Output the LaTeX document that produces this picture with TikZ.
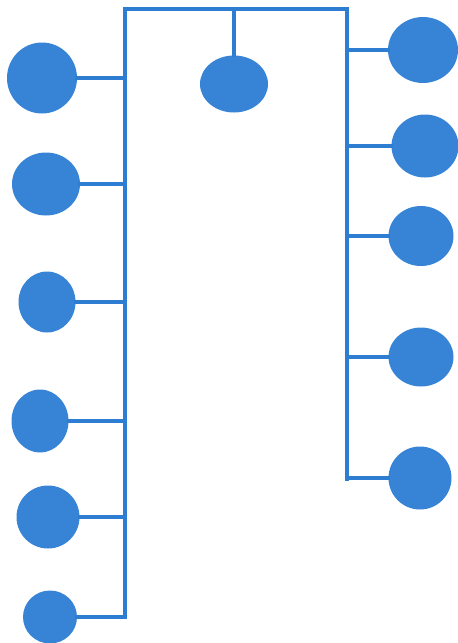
\documentclass[tikz,border=0pt]{standalone}
\usetikzlibrary{shapes.geometric}
\definecolor{netblue}{RGB}{45,125,210}
\definecolor{blobblue}{RGB}{55,132,214}
\begin{document}
\begin{tikzpicture}[x=1pt,y=-1pt,
  wire/.style={draw=netblue,line width=4.2pt,line cap=rect,line join=miter},
  blob/.style={ellipse,fill=blobblue,draw=none,inner sep=0pt}]
\useasboundingbox (0,0) rectangle (458,643);
% trunk coordinates
\coordinate (tl) at (125,9);
\coordinate (tr) at (347,9);
\coordinate (bl) at (125,615);
\coordinate (br) at (347,479);
% stations
\node[blob,minimum width=70,minimum height=71] (L1) at (42,78) {};
\node[blob,minimum width=68,minimum height=63] (L2) at (46,184) {};
\node[blob,minimum width=57,minimum height=61] (L3) at (47,302) {};
\node[blob,minimum width=57,minimum height=63] (L4) at (40,421) {};
\node[blob,minimum width=63,minimum height=63] (L5) at (48,517) {};
\node[blob,minimum width=54,minimum height=53] (L6) at (50,617) {};
\node[blob,minimum width=68,minimum height=57] (C) at (234,84) {};
\node[blob,minimum width=70,minimum height=66] (R1) at (423,50) {};
\node[blob,minimum width=67,minimum height=63] (R2) at (425,146) {};
\node[blob,minimum width=65,minimum height=60] (R3) at (421,236) {};
\node[blob,minimum width=65,minimum height=59] (R4) at (421,357) {};
\node[blob,minimum width=63,minimum height=63] (R5) at (420,478) {};
% bus
\draw[wire] (bl) -- (tl) -- (tr) -- (br);
\draw[wire] (C.north |- tl) -- (C.north);
\draw[wire] (L1.east) -- (L1 -| tl);
\draw[wire] (L2.east) -- (L2 -| tl);
\draw[wire] (L3.east) -- (L3 -| tl);
\draw[wire] (L4.east) -- (L4 -| tl);
\draw[wire] (L5.east) -- (L5 -| tl);
\draw[wire] (L6.east) -- (L6 -| tl);
\draw[wire] (R1.west) -- (R1 -| tr);
\draw[wire] (R2.west) -- (R2 -| tr);
\draw[wire] (R3.west) -- (R3 -| tr);
\draw[wire] (R4.west) -- (R4 -| tr);
\draw[wire] (R5.west) -- (R5 -| tr);
\end{tikzpicture}
\end{document}
